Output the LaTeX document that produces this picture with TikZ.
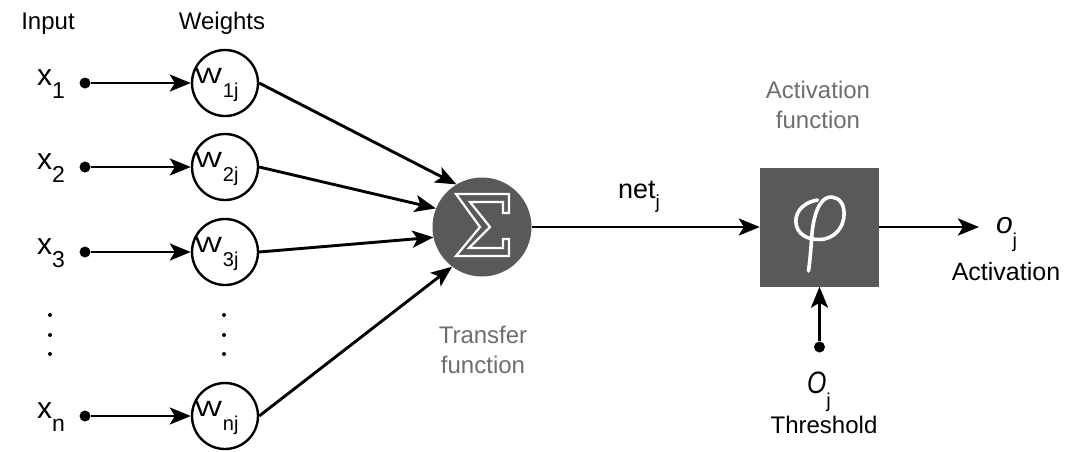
\documentclass[tikz,border=0pt]{standalone}
\usepackage{fontspec}
\setmainfont{Liberation Sans}
\usetikzlibrary{arrows.meta}
\definecolor{boxgray}{HTML}{595959}
\definecolor{textgray}{HTML}{6E6E6E}
\newcommand\fsz[1]{\fontsize{#1}{#1}\selectfont}
\newcommand\subtext[3]{\raisebox{-#1pt}{\fsz{#2}#3}}
\begin{document}
\begin{tikzpicture}[x=1pt,y=-1pt,
  lab/.style={inner sep=0pt, outer sep=0pt, anchor=base west},
  ctr/.style={inner sep=0pt, outer sep=0pt, anchor=base},
  arr/.style={-{Stealth[length=21pt,width=17pt,inset=5pt]}, line width=2.9pt},
  wcirc/.style={circle, draw, line width=2.4pt, minimum size=66pt, inner sep=0pt},
  dot/.style={circle, fill, inner sep=0pt, minimum size=11pt},
  vdot/.style={circle, fill, inner sep=0pt, minimum size=4pt},
  graytxt/.style={ctr, text=textgray, font=\fsz{24}},
  blacktxt/.style={ctr, font=\fsz{24}}]
\useasboundingbox (0,0) rectangle (1070,451);

% column headings
\node[blacktxt] (inp) at (48,29) {Input};
\node[blacktxt] (wts) at (222,29) {Weights};

% inputs and their weights
\foreach \i/\y in {1/83, 2/167, 3/252, n/416} {
  \node[lab] (x\i) at (37,\y+2) {\fsz{30}x\subtext{13}{23}{\i}};
  \node[dot] (d\i) at (85,\y) {};
  \node[wcirc] (w\i) at (225,\y) {};
  \node[lab] (wl\i) at (195,\y) {\fsz{22}\scalebox{1.3}[1]{W}\kern1pt\subtext{14}{20}{\i j}};
  \draw[arr] (d\i) -- (w\i);
}

% vertical ellipses
\foreach \y [count=\k] in {315,335,354} {
  \node[vdot] (ex\k) at (50,\y) {};
  \node[vdot] (ew\k) at (224,\y) {};
}

% transfer function
\node[circle, fill=boxgray, minimum size=99pt, inner sep=0pt] (s) at (482,227) {};
\draw[white, line width=2.2pt, line join=miter, shift={(s.center)}]
  (-26,-33) -- (27,-33) -- (27,-14) -- (21,-14) -- (21,-25) -- (-12,-25)
  -- (8,0) -- (-13,21) -- (21,21) -- (21,12) -- (27,12) -- (27,29)
  -- (-26,29) -- (-2,0) -- cycle;
\node[graytxt] (tf1) at (483,343) {Transfer};
\node[graytxt] (tf2) at (483,373) {function};

\draw[arr] (w1.east) -- (s.121);
\draw[arr] (w2.east) -- (s.158);
\draw[arr] (w3.east) -- (s.192);
\draw[arr] (wn.east) -- (s.233);

% activation function
\node[fill=boxgray, minimum size=119pt, inner sep=0pt] (act) at (819.5,227) {};
\draw[white, line width=3.6pt, line cap=round, shift={(act.center)}]
  (-2,-27) .. controls (-19,-24) and (-26,-12) .. (-23,-1)
  .. controls (-20,10) and (-7,14) .. (5,12)
  .. controls (19,9) and (27,-5) .. (24,-19)
  .. controls (22,-28) and (14,-32) .. (7,-29)
  .. controls (-3,-24) and (-7,-5) .. (-8,13)
  .. controls (-9,28) and (-10,37) .. (-11,44);
\node[graytxt] (af1) at (818,98) {Activation};
\node[graytxt] (af2) at (818,128) {function};

\draw[arr] (s) -- (act);
\node[lab] (net) at (618,198) {\fsz{27}net\subtext{10}{19}{j}};

% output
\coordinate (oend) at (979,227);
\draw[arr] (act) -- (oend);
\node[lab] (oj) at (996,233) {\fsz{30}\textit{o}\subtext{14}{20}{j}};
\node[blacktxt] (actv) at (1006,280) {\fsz{25}Activation};

% threshold
\node[dot] (tdot) at (819.5,347) {};
\draw[arr] (tdot) -- (tdot |- act.south);
\node[lab] (th) at (807,393) {\fsz{31}\scalebox{0.8}[1]{\textit{O}}\subtext{14}{20}{j}};
\node[blacktxt] (thr) at (824,433) {Threshold};
\end{tikzpicture}
\end{document}
